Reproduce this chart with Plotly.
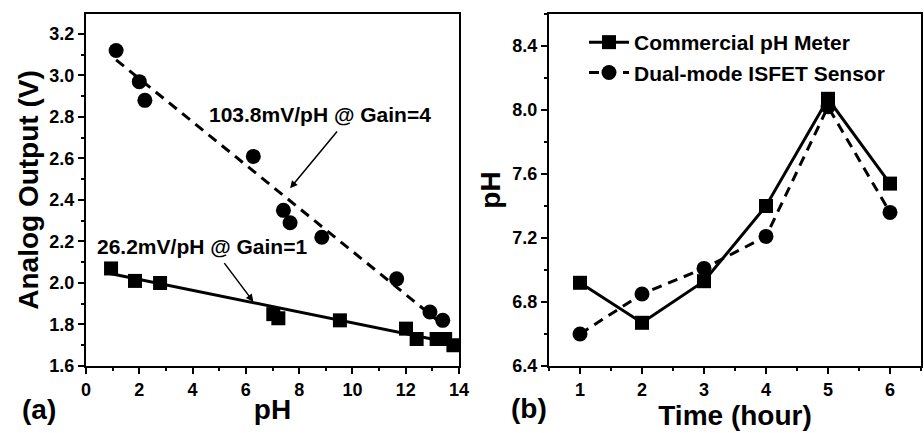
import plotly.graph_objects as go

# ---- data: panel (a) ----
ph_g1 = [0.94, 1.84, 2.78, 7.03, 7.22, 9.53, 12.01, 12.41, 13.16, 13.48, 13.79]
v_g1 = [2.07, 2.01, 2.00, 1.85, 1.83, 1.82, 1.78, 1.73, 1.73, 1.73, 1.70]
ph_g4 = [1.13, 2.00, 2.21, 6.28, 7.41, 7.66, 8.85, 11.66, 12.91, 13.39]
v_g4 = [3.12, 2.97, 2.88, 2.61, 2.35, 2.29, 2.22, 2.02, 1.86, 1.82]
fit_g1_x = [0.9, 14.0]
fit_g1_y = [2.046, 1.703]
fit_g4_x = [1.13, 13.3]
fit_g4_y = [3.075, 1.809]

# ---- data: panel (b) ----
hours = [1, 2, 3, 4, 5, 6]
ph_meter = [6.92, 6.67, 6.93, 7.40, 8.07, 7.54]
ph_isfet = [6.60, 6.85, 7.01, 7.21, 8.02, 7.36]

FONT = "Liberation Sans, Arial, sans-serif"
W, H = 924, 433
ML, MR, MT, MB = 86, 3, 14, 67
PW = W - ML - MR
PH = H - MT - MB

def px2paper_x(px):
    return (px - ML) / PW

def py2paper_y(py):
    return 1 - (py - MT) / PH

fig = go.Figure()

# panel (a)
fig.add_trace(go.Scatter(x=fit_g4_x, y=fit_g4_y, mode="lines",
                         line=dict(color="black", width=3, dash="10px,7px"),
                         showlegend=False, xaxis="x", yaxis="y"))
fig.add_trace(go.Scatter(x=fit_g1_x, y=fit_g1_y, mode="lines",
                         line=dict(color="black", width=3),
                         showlegend=False, xaxis="x", yaxis="y"))
fig.add_trace(go.Scatter(x=ph_g4, y=v_g4, mode="markers",
                         marker=dict(symbol="circle", size=15, color="black"),
                         showlegend=False, xaxis="x", yaxis="y"))
fig.add_trace(go.Scatter(x=ph_g1, y=v_g1, mode="markers",
                         marker=dict(symbol="square", size=14, color="black"),
                         showlegend=False, xaxis="x", yaxis="y"))

# panel (b)
fig.add_trace(go.Scatter(x=hours, y=ph_meter, mode="lines+markers",
                         name="Commercial pH Meter",
                         line=dict(color="black", width=3),
                         marker=dict(symbol="square", size=14, color="black"),
                         xaxis="x2", yaxis="y2"))
fig.add_trace(go.Scatter(x=hours, y=ph_isfet, mode="lines+markers",
                         name="Dual-mode ISFET Sensor",
                         line=dict(color="black", width=3, dash="10px,7px"),
                         marker=dict(symbol="circle", size=15, color="black"),
                         xaxis="x2", yaxis="y2"))

tickfont = dict(family=FONT, size=18, color="black", weight="bold")
titlefont = dict(family=FONT, size=28, color="black", weight="bold")

def base_axis(**kw):
    d = dict(showline=True, linecolor="black", linewidth=2,
             ticks="outside", ticklen=6, tickwidth=2, tickcolor="black",
             showgrid=False, zeroline=False, tickfont=tickfont,
             mirror=True, automargin=False)
    d.update(kw)
    return d

def mirror_axis(**kw):
    d = dict(showline=False, ticks="inside", ticklen=6, tickwidth=2,
             tickcolor="black", showticklabels=False, showgrid=False,
             zeroline=False, automargin=False)
    d.update(kw)
    return d

d1 = [0, px2paper_x(459)]
d2 = [px2paper_x(549), 1]
xr2 = [0.5, 6.5]

fig.update_layout(
    template="none",
    width=W, height=H,
    margin=dict(l=ML, r=MR, t=MT, b=MB),
    paper_bgcolor="white", plot_bgcolor="white",
    font=dict(family=FONT, color="black"),
    xaxis=base_axis(domain=d1, range=[0, 14], dtick=2, tick0=0,
                    minor=dict(dtick=1, ticks="outside", ticklen=3, tickwidth=2, tickcolor="black"),
                    title=dict(text="pH", font=titlefont, standoff=1), anchor="y"),
    yaxis=base_axis(range=[1.6, 3.296], dtick=0.2, tick0=1.6, tickformat=".1f",
                    minor=dict(dtick=0.1, ticks="outside", ticklen=3, tickwidth=2, tickcolor="black"),
                    title=dict(text="Analog Output (V)", font=titlefont, standoff=3), anchor="x"),
    xaxis3=mirror_axis(domain=d1, range=[0, 14], dtick=2, tick0=0, overlaying="x",
                       side="top", anchor="y",
                       minor=dict(dtick=1, ticks="inside", ticklen=3, tickwidth=2, tickcolor="black")),
    yaxis3=mirror_axis(range=[1.6, 3.296], dtick=0.2, tick0=1.6, overlaying="y",
                       side="right", anchor="x",
                       minor=dict(dtick=0.1, ticks="inside", ticklen=3, tickwidth=2, tickcolor="black")),
    xaxis2=base_axis(domain=d2, range=xr2, dtick=1, tick0=1,
                     minor=dict(dtick=0.5, ticks="outside", ticklen=3, tickwidth=2, tickcolor="black"),
                     title=dict(text="Time (hour)", font=titlefont, standoff=1), anchor="y2"),
    yaxis2=base_axis(range=[6.4, 8.6], dtick=0.4, tick0=6.4, tickformat=".1f",
                     minor=dict(dtick=0.2, ticks="outside", ticklen=3, tickwidth=2, tickcolor="black"),
                     title=dict(text="pH", font=titlefont, standoff=4), anchor="x2"),
    xaxis4=mirror_axis(domain=d2, range=xr2, dtick=1, tick0=1, overlaying="x2",
                       side="top", anchor="y2",
                       minor=dict(dtick=0.5, ticks="inside", ticklen=3, tickwidth=2, tickcolor="black")),
    yaxis4=mirror_axis(range=[6.4, 8.6], dtick=0.4, tick0=6.4, overlaying="y2",
                       side="right", anchor="x2",
                       minor=dict(dtick=0.2, ticks="inside", ticklen=3, tickwidth=2, tickcolor="black")),
    legend=dict(x=px2paper_x(584), y=py2paper_y(22), xanchor="left", yanchor="top",
                bgcolor="rgba(0,0,0,0)", borderwidth=0, itemwidth=40,
                font=dict(family=FONT, size=21, color="black", weight="bold"),
                tracegroupgap=0),
    showlegend=True,
)

annfont = dict(family=FONT, size=21, color="black", weight="bold")
annotations = [
    dict(x=8.78, y=2.81, xref="x", yref="y", text="103.8mV/pH @ Gain=4",
         showarrow=False, font=annfont),
    dict(x=4.34, y=2.175, xref="x", yref="y", text="26.2mV/pH @ Gain=1",
         showarrow=False, font=annfont),
    dict(x=7.66, y=2.456, ax=9.47, ay=2.737, xref="x", yref="y", axref="x", ayref="y",
         text="", showarrow=True, arrowhead=2, arrowsize=1, arrowwidth=1.5, arrowcolor="black"),
    dict(x=6.28, y=1.91, ax=5.15, ay=2.103, xref="x", yref="y", axref="x", ayref="y",
         text="", showarrow=True, arrowhead=2, arrowsize=1, arrowwidth=1.5, arrowcolor="black"),
    dict(x=px2paper_x(39), y=py2paper_y(409), xref="paper", yref="paper", text="(a)",
         showarrow=False, font=titlefont, xanchor="center", yanchor="middle"),
    dict(x=px2paper_x(529), y=py2paper_y(408), xref="paper", yref="paper", text="(b)",
         showarrow=False, font=titlefont, xanchor="center", yanchor="middle"),
]
fig.update_layout(annotations=annotations)

# remove the default 8px page margin and scrollbars so the figure fills the window exactly
fig.write_html("out.html",
               config={"displayModeBar": False},
               post_script="document.body.style.margin='0';"
                           "document.body.style.overflow='hidden';"
                           "document.documentElement.style.overflow='hidden';")
